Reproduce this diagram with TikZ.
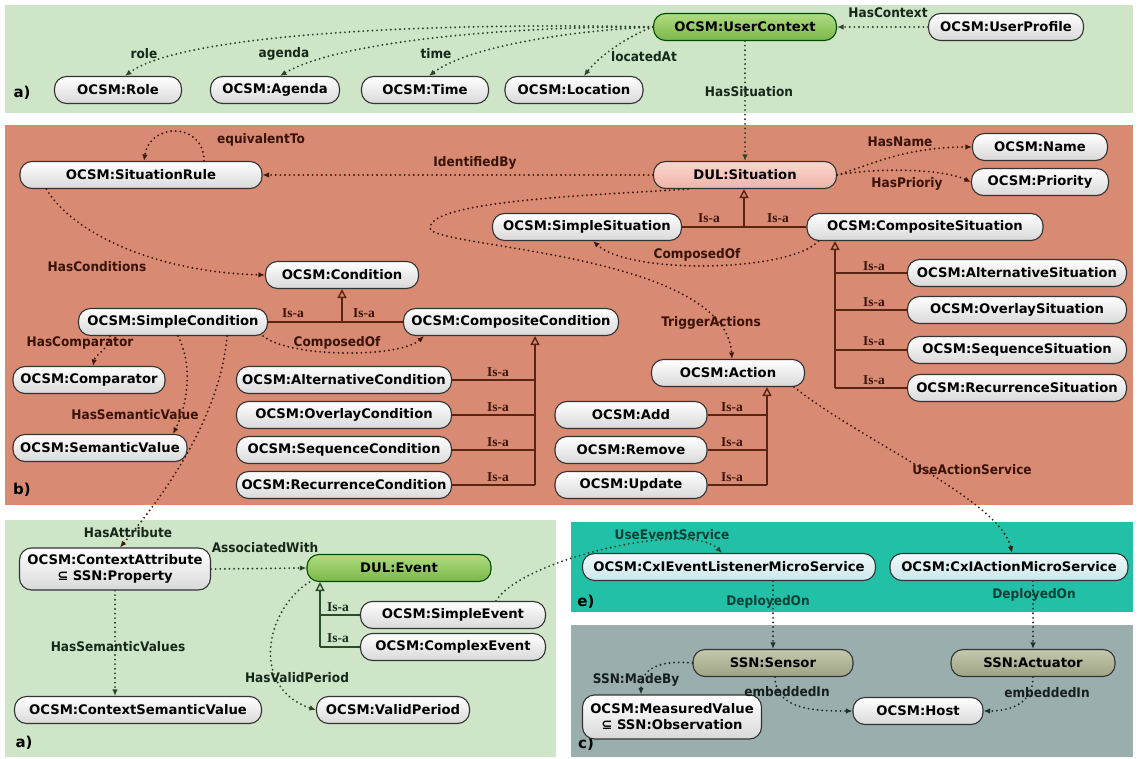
\documentclass[tikz,border=0pt]{standalone}
\usepackage{fontspec}
\setmainfont{DejaVu Sans}
\newfontfamily\entfont{DejaVu Sans}
\newfontfamily\lblfont[FakeStretch=0.92]{DejaVu Sans}
\newfontfamily\isafont{Liberation Serif}
\usetikzlibrary{arrows.meta,calc}

% panel colours
\definecolor{pgreen}{HTML}{CFE5C8}
\definecolor{psalmon}{HTML}{D88B72}
\definecolor{pteal}{HTML}{22C0A6}
\definecolor{pgrey}{HTML}{9AAEAE}
% connector and text colours
\definecolor{relG}{HTML}{2E4428}
\definecolor{relS}{HTML}{3C1A0E}
\definecolor{relT}{HTML}{1C302C}
\definecolor{isaS}{HTML}{5A2414}
\definecolor{isaG}{HTML}{2A4C2A}
\definecolor{txtG}{HTML}{17281A}
\definecolor{txtS}{HTML}{3A1208}
\definecolor{txtT}{HTML}{0A4038}
\definecolor{txtC}{HTML}{161E1E}
% node fills
\definecolor{ctxtop}{HTML}{AEDC80}
\definecolor{ctxbot}{HTML}{7CB84A}
\definecolor{sittop}{HTML}{FAD6CE}
\definecolor{sitbot}{HTML}{F0B4A8}
\definecolor{cxtop}{HTML}{F0FAFB}
\definecolor{cxbot}{HTML}{CBE7EB}
\definecolor{ssntop}{HTML}{C4C8AC}
\definecolor{ssnbot}{HTML}{9FA385}

\tikzset{
  ent/.style={draw=black!80, line width=1.1pt, rounded corners=12pt,
    minimum height=27pt, inner sep=0pt, align=center,
    top color=white, bottom color=black!15,
    font=\entfont\bfseries\fontsize{13.2}{16}\selectfont},
  ctxnode/.style={top color=ctxtop, bottom color=ctxbot, draw=black!70!green},
  sitnode/.style={top color=sittop, bottom color=sitbot},
  cxnode/.style={top color=cxtop, bottom color=cxbot},
  ssnnode/.style={top color=ssntop, bottom color=ssnbot},
  lbl/.style={inner sep=0pt, font=\lblfont\bfseries\fontsize{13.2}{15}\selectfont},
  isalbl/.style={inner sep=0pt, font=\isafont\bfseries\fontsize{13.5}{14}\selectfont},
  tag/.style={inner sep=0pt, font=\entfont\bfseries\fontsize{15}{16}\selectfont},
  rel/.style={line width=2.1pt, dash pattern=on 0pt off 4.6pt, line cap=round,
    -{Latex[length=6.5pt,width=5.5pt]}},
  isa/.style={line width=1.4pt, -{Triangle[open,length=9pt,width=9pt]}},
  isaline/.style={line width=1.4pt},
}

\begin{document}
\begin{tikzpicture}[x=1pt,y=-1pt]
\useasboundingbox (0,0) rectangle (1138,759);
\fill[white] (0,0) rectangle (1138,759);

% ---------- panels ----------
\fill[pgreen]  (5,5)     rectangle (1133,113);
\fill[psalmon] (5,125)   rectangle (1133,505);
\fill[pgreen]  (5,520)   rectangle (556,757);
\fill[pteal]   (571,522) rectangle (1133,612);
\fill[pgrey]   (571,625) rectangle (1133,757);

\node[tag] (tagA) at (22,93) {a)};
\node[tag] (tagB) at (22,490) {b)};
\node[tag] (tagA2) at (24,743) {a)};
\node[tag] (tagE) at (586,602) {e)};
\node[tag] (tagC) at (586,744) {c)};

% ---------- user context ----------
\node[ent, ctxnode, minimum width=183pt] (uc) at (745,27) {OCSM:UserContext};
\node[ent, minimum width=155pt] (up) at (1006,27) {OCSM:UserProfile};
\node[ent, minimum width=127pt] (role) at (118,90) {OCSM:Role};
\node[ent, minimum width=129pt] (agenda) at (275,90) {OCSM:Agenda};
\node[ent, minimum width=127pt] (time) at (425,90) {OCSM:Time};
\node[ent, minimum width=138pt] (loc) at (574,90) {OCSM:Location};

% ---------- situations ----------
\node[ent, sitnode, minimum width=183pt] (sit) at (745,175) {DUL:Situation};
\node[ent, minimum width=242pt] (rule) at (141,175) {OCSM:SituationRule};
\node[ent, minimum width=135pt] (name) at (1040,147) {OCSM:Name};
\node[ent, minimum width=137pt] (prio) at (1040,182) {OCSM:Priority};
\node[ent, minimum width=189pt] (ssit) at (587,227) {OCSM:SimpleSituation};
\node[ent, minimum width=236pt] (csit) at (925,227) {OCSM:CompositeSituation};
\node[ent, minimum width=219pt] (alts) at (1017,273) {OCSM:AlternativeSituation};
\node[ent, minimum width=219pt] (ovs) at (1017,310) {OCSM:OverlaySituation};
\node[ent, minimum width=219pt] (seqs) at (1017,350) {OCSM:SequenceSituation};
\node[ent, minimum width=219pt] (recs) at (1017,388) {OCSM:RecurrenceSituation};

% ---------- conditions ----------
\node[ent, minimum width=153pt] (cond) at (342,275) {OCSM:Condition};
\node[ent, minimum width=189pt] (scond) at (173,322) {OCSM:SimpleCondition};
\node[ent, minimum width=215pt] (ccond) at (511,322) {OCSM:CompositeCondition};
\node[ent, minimum width=152pt] (comp) at (89,380) {OCSM:Comparator};
\node[ent, minimum width=174pt] (semv) at (100,448) {OCSM:SemanticValue};
\node[ent, minimum width=215pt] (altc) at (344,380) {OCSM:AlternativeCondition};
\node[ent, minimum width=215pt] (ovc) at (344,415) {OCSM:OverlayCondition};
\node[ent, minimum width=215pt] (seqc) at (344,450) {OCSM:SequenceCondition};
\node[ent, minimum width=215pt] (recc) at (344,485) {OCSM:RecurrenceCondition};

% ---------- actions ----------
\node[ent, minimum width=153pt] (act) at (728,373) {OCSM:Action};
\node[ent, minimum width=152pt] (add) at (631,415) {OCSM:Add};
\node[ent, minimum width=152pt] (rem) at (631,450) {OCSM:Remove};
\node[ent, minimum width=152pt] (upd) at (631,485) {OCSM:Update};

% ---------- events ----------
\node[ent, minimum width=191pt, minimum height=42pt] (cattr) at (115,569)
  {OCSM:ContextAttribute\\⊆ SSN:Property};
\node[ent, ctxnode, minimum width=184pt] (ev) at (399,568) {DUL:Event};
\node[ent, minimum width=185pt] (sev) at (453,615) {OCSM:SimpleEvent};
\node[ent, minimum width=185pt] (cev) at (453,647) {OCSM:ComplexEvent};
\node[ent, minimum width=247pt] (csv) at (138,710) {OCSM:ContextSemanticValue};
\node[ent, minimum width=153pt] (vp) at (393,710) {OCSM:ValidPeriod};

% ---------- services and devices ----------
\node[ent, cxnode, minimum width=293pt] (cxe) at (729,567) {OCSM:CxIEventListenerMicroService};
\node[ent, cxnode, minimum width=238pt] (cxa) at (1009,567) {OCSM:CxIActionMicroService};
\node[ent, ssnnode, minimum width=160pt] (sens) at (773,663) {SSN:Sensor};
\node[ent, ssnnode, minimum width=164pt] (actu) at (1033,663) {SSN:Actuator};
\node[ent, minimum width=179pt, minimum height=44pt] (mv) at (672,717)
  {OCSM:MeasuredValue\\⊆ SSN:Observation};
\node[ent, minimum width=130pt] (host) at (918,711) {OCSM:Host};

% ---------- user context relations ----------
\begin{scope}[every path/.style={rel, draw=relG}]
\path (up.west) -- (uc.east);
\path (uc.west) .. controls (420,22) and (180,35) .. ($(role.north)+(7,0)$);
\path (uc.west) .. controls (520,26) and (340,40) .. ($(agenda.north)+(5,0)$);
\path (uc.west) .. controls (580,30) and (470,45) .. ($(time.north)+(4,0)$);
\path (uc.west) .. controls (630,35) and (600,55) .. ($(loc.north)+(10,0)$);
\path (uc.south) -- (sit.north);
\end{scope}
\node[lbl, text=txtG] (lHasContext) at (888,13) {HasContext};
\node[lbl, text=txtG] (lRole) at (144,54) {role};
\node[lbl, text=txtG] (lAgenda) at (284,54) {agenda};
\node[lbl, text=txtG] (lTime) at (436,54) {time};
\node[lbl, text=txtG] (lLoc) at (644,57) {locatedAt};
\node[lbl, text=txtG] (lHasSit) at (749,92) {HasSituation};

% ---------- situation relations ----------
\begin{scope}[every path/.style={rel, draw=relS}]
\path (sit.west) -- (rule.east);
\path ($(rule.north)+(63,0)$) .. controls (204,122) and (150,122) .. ($(rule.north)+(3,0)$);
\path (sit.east) .. controls (870,165) and (905,147) .. (name.west);
\path (sit.east) .. controls (875,168) and (940,168) .. (prio.west);
\path ($(csit.south west)+(12,0)$) .. controls (790,272) and (630,275) .. ($(ssit.south)+(6,0)$);
\path ($(sit.south west)+(35,0)$) .. controls (600,195) and (430,200) .. (430,228)
      .. controls (430,248) and (725,252) .. ($(act.north)+(4,0)$);
\path ($(rule.south west)+(27,0)$) .. controls (70,230) and (150,272) .. (cond.west);
\path ($(scond.south east)+(-5,0)$) .. controls (290,358) and (400,358) .. ($(ccond.south west)+(21,0)$);
\path ($(scond.south)+(-63,0)$) .. controls (108,350) and (95,355) .. ($(comp.north)+(4,0)$);
\path ($(scond.south)+(5,0)$) .. controls (195,370) and (185,410) .. ($(semv.north)+(73,0)$);
\path ($(scond.south)+(54,0)$) .. controls (220,420) and (160,500) .. ($(cattr.north)+(5,0)$);
\path ($(act.south east)+(-11,0)$) .. controls (860,440) and (1000,500) .. ($(cxa.north)+(3,0)$);
\end{scope}
\node[lbl, text=txtS] (lEquiv) at (261,140) {equivalentTo};
\node[lbl, text=txtS] (lIdent) at (475,163) {IdentifiedBy};
\node[lbl, text=txtS] (lName) at (900,142) {HasName};
\node[lbl, text=txtS] (lPrio) at (907,184) {HasPrioriy};
\node[lbl, text=txtS] (lCompS) at (697,255) {ComposedOf};
\node[lbl, text=txtS] (lCond) at (97,267) {HasConditions};
\node[lbl, text=txtS] (lCompC) at (337,343) {ComposedOf};
\node[lbl, text=txtS] (lTrig) at (711,323) {TriggerActions};
\node[lbl, text=txtS] (lCmp) at (80,343) {HasComparator};
\node[lbl, text=txtS] (lSemv) at (135,415) {HasSemanticValue};
\node[lbl, text=txtS] (lUseAct) at (972,470) {UseActionService};

% ---------- is-a hierarchy (situation panel) ----------
\coordinate (sj) at (744,227);
\draw[isaline, isaS] (ssit.east) -- (csit.west);
\draw[isa, isaS] (sj) -- (sj |- sit.south);
\coordinate (cj0) at (342,322);
\draw[isaline, isaS] (scond.east) -- (ccond.west);
\draw[isa, isaS] (cj0) -- (cj0 |- cond.south);
\coordinate (cj) at (535,485);
\draw[isa, isaS] (cj) -- (cj |- ccond.south);
\draw[isaline, isaS] (altc.east) -- (altc.east -| cj);
\draw[isaline, isaS] (ovc.east) -- (ovc.east -| cj);
\draw[isaline, isaS] (seqc.east) -- (seqc.east -| cj);
\draw[isaline, isaS] (recc.east) -- (cj);
\coordinate (sj2) at (835,388);
\draw[isa, isaS] (sj2) -- (sj2 |- csit.south);
\draw[isaline, isaS] (sj2 |- alts.west) -- (alts.west);
\draw[isaline, isaS] (sj2 |- ovs.west) -- (ovs.west);
\draw[isaline, isaS] (sj2 |- seqs.west) -- (seqs.west);
\draw[isaline, isaS] (sj2) -- (recs.west);
\coordinate (aj) at (767,485);
\draw[isa, isaS] (aj) -- (aj |- act.south);
\draw[isaline, isaS] (add.east) -- (add.east -| aj);
\draw[isaline, isaS] (rem.east) -- (rem.east -| aj);
\draw[isaline, isaS] (upd.east) -- (aj);
\node[isalbl, text=txtS] (iS1) at (709,218) {Is-a};
\node[isalbl, text=txtS] (iS2) at (778,218) {Is-a};
\node[isalbl, text=txtS] (iC1) at (293,313) {Is-a};
\node[isalbl, text=txtS] (iC2) at (364,313) {Is-a};
\node[isalbl, text=txtS] (iC3) at (498,372) {Is-a};
\node[isalbl, text=txtS] (iC4) at (498,407) {Is-a};
\node[isalbl, text=txtS] (iC5) at (498,442) {Is-a};
\node[isalbl, text=txtS] (iC6) at (498,477) {Is-a};
\node[isalbl, text=txtS] (iS3) at (874,266) {Is-a};
\node[isalbl, text=txtS] (iS4) at (874,302) {Is-a};
\node[isalbl, text=txtS] (iS5) at (874,341) {Is-a};
\node[isalbl, text=txtS] (iS6) at (874,380) {Is-a};
\node[isalbl, text=txtS] (iA1) at (732,407) {Is-a};
\node[isalbl, text=txtS] (iA2) at (732,442) {Is-a};
\node[isalbl, text=txtS] (iA3) at (732,477) {Is-a};

% ---------- event relations ----------
\begin{scope}[every path/.style={rel, draw=relG}]
\path (cattr.east) -- (ev.west);
\path (cattr.south) -- (cattr.south |- csv.north);
\path ($(ev.south west)+(3,0)$) .. controls (265,610) and (250,688) .. (vp.west);
\path ($(sev.north)+(43,0)$) .. controls (520,560) and (690,520) .. ($(cxe.north)+(-7,0)$);
\end{scope}
\coordinate (ej) at (320,647);
\draw[isa, isaG] (ej) -- (ej |- ev.south);
\draw[isaline, isaG] (ej |- sev.west) -- (sev.west);
\draw[isaline, isaG] (ej) -- (cev.west);
\node[lbl, text=txtG] (lAttr) at (128,533) {HasAttribute};
\node[lbl, text=txtG] (lAssoc) at (265,548) {AssociatedWith};
\node[lbl, text=txtG] (lSemvs) at (118,647) {HasSemanticValues};
\node[lbl, text=txtG] (lValid) at (297,678) {HasValidPeriod};
\node[isalbl, text=txtG] (iE1) at (338,607) {Is-a};
\node[isalbl, text=txtG] (iE2) at (338,638) {Is-a};
\node[lbl, text=txtT] (lUseEv) at (672,535) {UseEventService};

% ---------- deployment ----------
\begin{scope}[every path/.style={rel, draw=relT}]
\path (sens.north |- cxe.south) -- (sens.north);
\path (actu.north |- cxa.south) -- (actu.north);
\path (sens.west) .. controls (660,660) and (641,668) .. ($(mv.north)+(-31,0)$);
\path ($(sens.south)+(2,0)$) .. controls (775,711) and (820,711) .. (host.west);
\path (actu.south) .. controls (1033,704) and (1010,711) .. (host.east);
\end{scope}
\node[lbl, text=txtT] (lDep1) at (768,602) {DeployedOn};
\node[lbl, text=txtT] (lDep2) at (1034,595) {DeployedOn};
\node[lbl, text=txtC] (lMade) at (636,680) {SSN:MadeBy};
\node[lbl, text=txtC] (lEmb1) at (787,692) {embeddedIn};
\node[lbl, text=txtC] (lEmb2) at (1047,693) {embeddedIn};
\end{tikzpicture}
\end{document}
